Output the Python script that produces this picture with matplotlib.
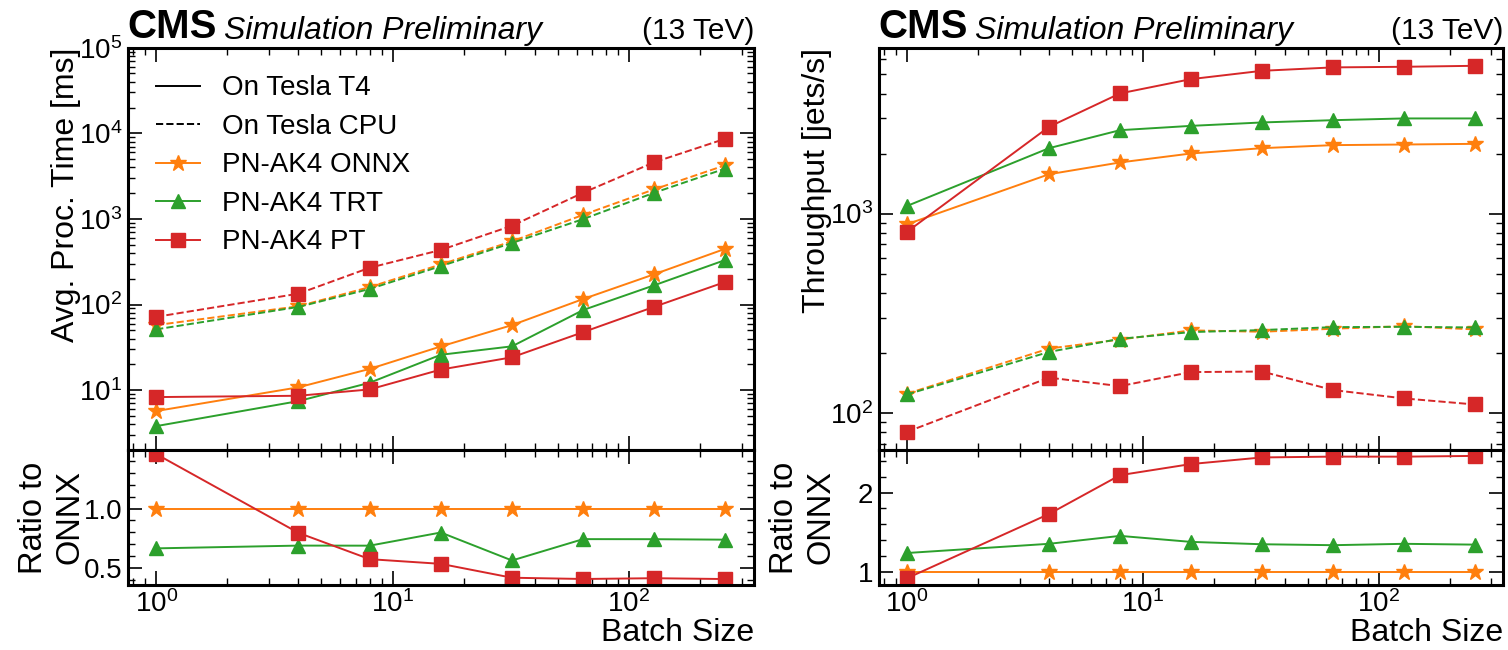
import numpy as np
import matplotlib
matplotlib.use("Agg")
import matplotlib.pyplot as plt
from matplotlib.lines import Line2D
from matplotlib.ticker import MultipleLocator, FormatStrFormatter, LogLocator

plt.rcParams['font.family'] = ['Liberation Sans', 'DejaVu Sans']
plt.rcParams['mathtext.default'] = 'regular'

batch = np.array([1, 4, 8, 16, 32, 64, 128, 256])

# avg processing time [ms]
time_gpu_onnx = np.array([5.7, 10.8, 17.7, 32.4, 57.5, 116, 226, 449])
time_gpu_trt = np.array([3.8, 7.45, 12.2, 25.9, 32.5, 86.3, 168, 332])
time_gpu_pt = np.array([8.3, 8.6, 10.2, 17.4, 24.2, 47.6, 94.2, 184])
time_cpu_onnx = np.array([57.5, 95.5, 160, 294, 547, 1116, 2218, 4245])
time_cpu_trt = np.array([51.3, 93.8, 152, 281, 524, 995, 2024, 3882])
time_cpu_pt = np.array([71.8, 134, 269, 434, 832, 2024, 4597, 8656])

# throughput [jets/s]
thr_gpu_onnx = np.array([884, 1575, 1805, 2002, 2129, 2205, 2221, 2238])
thr_gpu_trt = np.array([1092, 2129, 2621, 2755, 2866, 2942, 3002, 3002])
thr_gpu_pt = np.array([810, 2724, 4009, 4729, 5207, 5416, 5454, 5517])
thr_cpu_onnx = np.array([124.6, 210, 233, 259, 255, 264, 272, 262])
thr_cpu_trt = np.array([123.6, 202, 235, 254, 260, 269, 270, 268])
thr_cpu_pt = np.array([80.2, 150, 136, 160, 161, 130, 118, 110])

c_onnx, c_trt, c_pt = '#ff7f0e', '#2ca02c', '#d62728'
mk = {'onnx': ('*', 12), 'trt': ('^', 10), 'pt': ('s', 10)}
lw = 1.4
spine_w = 2.2


def style_axes(ax):
    for s in ax.spines.values():
        s.set_linewidth(spine_w)
    ax.tick_params(which='both', direction='in', top=True, right=True, labelsize=20, pad=4)
    ax.tick_params(which='major', length=10, width=1.2)
    ax.tick_params(which='minor', length=5, width=1.0)


def cms_label(ax):
    t = ax.text(0.0, 1.004, 'CMS', transform=ax.transAxes, fontsize=29,
                fontweight='bold', va='bottom', ha='left')
    ax.annotate('Simulation Preliminary', xy=(1, 0), xycoords=t, xytext=(5, 0),
                textcoords='offset points', fontsize=23, style='italic',
                va='bottom', ha='left')
    ax.text(1.0, 1.006, '(13 TeV)', transform=ax.transAxes, fontsize=21.5,
            va='bottom', ha='right')


fig = plt.figure(figsize=(15.08, 6.5), dpi=100)

panels = [
    (0.0847, 0.4153, 'Avg. Proc. Time [ms]',
     (time_gpu_onnx, time_gpu_trt, time_gpu_pt),
     (time_cpu_onnx, time_cpu_trt, time_cpu_pt),
     (2, 1e5), (0.36, 1.49), 0.5, 0.1, '%.1f', True),
    (0.5827, 0.4142, 'Throughput [jets/s]',
     (thr_gpu_onnx, thr_gpu_trt, thr_gpu_pt),
     (thr_cpu_onnx, thr_cpu_trt, thr_cpu_pt),
     (65, 6800), (0.83, 2.54), 1, 0.2, '%d', False),
]

for x0, w, ylab, gpu, cpu, ylim, rlim, rmaj, rmin, rfmt, legend in panels:
    ax = fig.add_axes([x0, 0.3077, w, 0.6189])
    rax = fig.add_axes([x0, 0.1, w, 0.2077], sharex=ax)

    for vals, col, key, lab in zip(gpu, (c_onnx, c_trt, c_pt), ('onnx', 'trt', 'pt'),
                                   ('PN-AK4 ONNX', 'PN-AK4 TRT', 'PN-AK4 PT')):
        m, ms = mk[key]
        ax.plot(batch, vals, color=col, marker=m, ms=ms, lw=lw, ls='-', label=lab)
        rax.plot(batch, vals / gpu[0], color=col, marker=m, ms=ms, lw=lw)
    for vals, col, key in zip(cpu, (c_onnx, c_trt, c_pt), ('onnx', 'trt', 'pt')):
        m, ms = mk[key]
        ax.plot(batch, vals, color=col, marker=m, ms=ms, lw=lw, ls='--')

    ax.set_xscale('log')
    ax.set_yscale('log')
    ax.set_ylim(*ylim)
    ax.set_xlim(0.758, 338)
    ax.yaxis.set_minor_locator(LogLocator(subs=np.arange(2, 10)))
    style_axes(ax)
    ax.tick_params(labelbottom=False)
    ax.set_ylabel(ylab, fontsize=23, loc='top')
    ax.yaxis.set_label_coords(-0.075, 1.0)
    cms_label(ax)

    rax.set_ylim(*rlim)
    rax.yaxis.set_major_locator(MultipleLocator(rmaj))
    rax.yaxis.set_minor_locator(MultipleLocator(rmin))
    rax.yaxis.set_major_formatter(FormatStrFormatter(rfmt))
    style_axes(rax)
    rax.set_ylabel('Ratio to\nONNX', fontsize=23.5)
    rax.yaxis.set_label_coords(-0.068, 0.5)
    rax.set_xlabel('Batch Size', fontsize=23, loc='right', labelpad=0)

    if legend:
        handles, labels = ax.get_legend_handles_labels()
        extra = [Line2D([], [], color='k', lw=lw, ls='-'),
                 Line2D([], [], color='k', lw=lw, ls='--')]
        ax.legend(extra + handles, ['On Tesla T4', 'On Tesla CPU'] + labels,
                  loc='upper left', frameon=False, fontsize=20, handlelength=1.6,
                  labelspacing=0.45, borderaxespad=0.6)

fig.savefig('out.png', dpi=100)
